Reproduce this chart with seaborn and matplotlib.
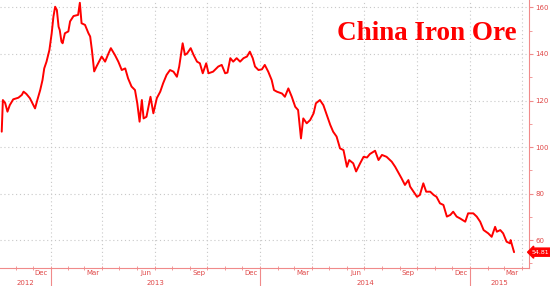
import numpy as np
import pandas as pd
import matplotlib
matplotlib.use("Agg")
import matplotlib.pyplot as plt
import matplotlib.dates as mdates
from matplotlib.lines import Line2D
import seaborn as sns

# ---------------- data ----------------
dates = [
    "2012-10-08", "2012-10-10", "2012-10-14", "2012-10-18", "2012-10-22", "2012-10-28",
    "2012-11-06", "2012-11-12", "2012-11-15", "2012-11-20", "2012-11-26", "2012-12-02",
    "2012-12-05", "2012-12-09", "2012-12-14", "2012-12-18", "2012-12-21", "2012-12-25",
    "2012-12-30", "2013-01-03", "2013-01-06", "2013-01-09", "2013-01-12", "2013-01-15",
    "2013-01-17", "2013-01-20", "2013-01-22", "2013-01-26", "2013-02-01", "2013-02-04",
    "2013-02-10", "2013-02-18", "2013-02-21", "2013-02-24", "2013-03-02", "2013-03-08",
    "2013-03-11", "2013-03-14", "2013-03-18", "2013-03-22", "2013-03-28", "2013-03-31",
    "2013-04-06", "2013-04-12", "2013-04-16", "2013-04-23", "2013-04-29", "2013-05-05",
    "2013-05-11", "2013-05-16", "2013-05-22", "2013-05-28", "2013-06-01", "2013-06-05",
    "2013-06-09", "2013-06-12", "2013-06-17", "2013-06-24", "2013-06-29", "2013-07-05",
    "2013-07-11", "2013-07-16", "2013-07-22", "2013-07-28", "2013-08-03", "2013-08-09",
    "2013-08-13", "2013-08-19", "2013-08-23", "2013-08-27", "2013-09-02", "2013-09-07",
    "2013-09-13", "2013-09-18", "2013-09-23", "2013-09-29", "2013-10-03", "2013-10-11",
    "2013-10-20", "2013-10-26", "2013-11-01", "2013-11-05", "2013-11-10", "2013-11-15",
    "2013-11-21", "2013-11-27", "2013-12-03", "2013-12-09", "2013-12-14", "2013-12-19",
    "2013-12-23", "2013-12-29", "2014-01-04", "2014-01-09", "2014-01-15", "2014-01-21",
    "2014-01-25", "2014-01-30", "2014-02-08", "2014-02-13", "2014-02-19", "2014-02-25",
    "2014-03-03", "2014-03-08", "2014-03-13", "2014-03-17", "2014-03-23", "2014-03-29",
    "2014-04-04", "2014-04-08", "2014-04-15", "2014-04-21", "2014-04-27", "2014-05-03",
    "2014-05-08", "2014-05-14", "2014-05-20", "2014-05-26", "2014-06-01", "2014-06-05",
    "2014-06-12", "2014-06-17", "2014-06-24", "2014-06-30", "2014-07-06", "2014-07-11",
    "2014-07-20", "2014-07-26", "2014-08-01", "2014-08-09", "2014-08-18", "2014-08-24",
    "2014-08-30", "2014-09-04", "2014-09-10", "2014-09-16", "2014-09-19", "2014-09-25",
    "2014-10-01", "2014-10-06", "2014-10-12", "2014-10-17", "2014-10-24", "2014-10-30",
    "2014-11-04", "2014-11-10", "2014-11-16", "2014-11-22", "2014-11-28", "2014-12-03",
    "2014-12-09", "2014-12-15", "2014-12-24", "2014-12-29", "2015-01-07", "2015-01-13",
    "2015-01-19", "2015-01-25", "2015-02-02", "2015-02-08", "2015-02-14", "2015-02-17",
    "2015-02-23", "2015-02-28", "2015-03-06", "2015-03-12", "2015-03-13", "2015-03-18",
    "2015-03-19",
]
values = [
    106.6, 120.2, 118.9, 115.2, 118.0, 120.5,
    121.2, 122.4, 123.8, 122.8, 121.0, 118.0,
    116.6, 120.2, 124.5, 128.8, 133.8, 136.7,
    141.7, 148.9, 156.0, 160.3, 158.9, 151.7,
    150.3, 145.3, 144.6, 148.9, 149.7, 154.0,
    156.3, 156.8, 162.0, 153.2, 152.5, 148.9,
    147.5, 141.7, 132.5, 134.6, 137.4, 138.9,
    136.7, 140.3, 142.5, 139.6, 136.7, 133.1,
    133.8, 129.5, 126.0, 124.5, 118.8, 110.9,
    120.2, 112.3, 113.0, 121.6, 114.5, 121.0,
    123.8, 127.4, 131.0, 133.1, 132.4, 130.2,
    134.6, 144.6, 139.6, 140.3, 142.5, 139.6,
    136.7, 136.0, 131.7, 136.0, 131.7, 132.4,
    134.6, 135.3, 131.7, 132.0, 138.2, 136.7,
    138.2, 136.7, 138.2, 138.9, 141.0, 138.2,
    134.6, 133.1, 133.4, 135.3, 132.4, 128.8,
    124.5, 123.8, 123.0, 121.6, 125.2, 121.6,
    117.3, 115.9, 103.7, 112.3, 110.2, 111.6,
    114.5, 118.8, 120.2, 118.0, 113.8, 109.5,
    106.6, 104.5, 99.4, 98.7, 91.5, 94.4,
    93.0, 89.5, 93.0, 95.8, 95.5, 97.0,
    98.4, 94.4, 96.6, 95.8, 93.7, 91.5,
    88.8, 86.6, 83.7, 85.8, 83.0, 80.8,
    78.6, 79.4, 84.4, 80.8, 80.8, 79.4,
    78.6, 75.8, 75.1, 70.1, 70.8, 72.2,
    70.1, 69.3, 67.9, 71.5, 71.5, 70.1,
    67.9, 64.3, 62.9, 61.4, 65.7, 63.6,
    64.3, 62.9, 59.3, 58.6, 60.0, 55.7,
    54.81,
]
quarter_labels = ["Dec", "Mar", "Jun", "Sep", "Dec", "Mar", "Jun", "Sep", "Dec", "Mar"]
quarter_label_dates = ["2012-12-16", "2013-03-16", "2013-06-16", "2013-09-16", "2013-12-16",
                       "2014-03-16", "2014-06-16", "2014-09-16", "2014-12-16", "2015-03-16"]
year_labels = ["2012", "2013", "2014", "2015"]
y_ticks = [60, 80, 100, 120, 140, 160]
last_value = 54.81
title = "China Iron Ore"

# ---------------- styling ----------------
RED = "#ff0000"
AXIS_RED = "#f08a8a"
LABEL_RED = "#e04848"
GRID = "#c8c8c8"

sns.set_style("white")
plt.rcParams["font.family"] = ["DejaVu Sans"]

fig = plt.figure(figsize=(5.5, 2.86), dpi=100)
ax = fig.add_axes([0, 18 / 286, 529 / 550, 268 / 286])

df = pd.DataFrame({"date": pd.to_datetime(dates), "value": values})
sns.lineplot(data=df, x="date", y="value", color=RED, lw=1.4, ax=ax, legend=False)

x0 = pd.Timestamp("2012-10-05")
x1 = pd.Timestamp("2015-04-14")
ax.set_xlim(x0, x1)
ax.set_ylim(48, 163.2)
ax.set_xlabel("")
ax.set_ylabel("")

# spines
for s in ["left", "top"]:
    ax.spines[s].set_visible(False)
for s in ["right", "bottom"]:
    ax.spines[s].set_visible(True)
    ax.spines[s].set_color(AXIS_RED)
    ax.spines[s].set_linewidth(0.8)

# y axis on the right
ax.yaxis.tick_right()
ax.set_yticks(y_ticks)
ax.set_yticks(np.arange(50, 161, 10), minor=True)
ax.tick_params(axis="y", which="major", length=3, width=0.8, color=AXIS_RED,
               labelsize=5, labelcolor=LABEL_RED, pad=1.5, right=True, left=False)
ax.tick_params(axis="y", which="minor", length=2, width=0.6, color=AXIS_RED,
               right=True, left=False)
ax.grid(axis="y", which="major", color=GRID, linestyle=(0, (1, 2.5)), linewidth=0.8)

# x axis: gridlines at quarter starts, minor ticks each month
ax.xaxis.set_major_locator(mdates.MonthLocator(bymonth=[1, 4, 7, 10]))
ax.xaxis.set_minor_locator(mdates.MonthLocator())
ax.xaxis.set_major_formatter(plt.NullFormatter())
ax.tick_params(axis="x", which="both", length=3, width=0.6, color=AXIS_RED,
               direction="inout", bottom=True)
ax.grid(axis="x", which="major", color=GRID, linestyle=(0, (1, 2.5)), linewidth=0.8)

xt = ax.get_xaxis_transform()
for lab, d in zip(quarter_labels, quarter_label_dates):
    ax.text(pd.Timestamp(d), -0.02, lab, transform=xt, ha="center", va="center",
            fontsize=5, color=LABEL_RED)

for lab in year_labels:
    ys = max(pd.Timestamp(f"{lab}-01-01"), x0)
    ye = min(pd.Timestamp(f"{int(lab) + 1}-01-01"), x1)
    mid = ys + (ye - ys) / 2
    ax.text(mid, -0.057, lab, transform=xt, ha="center", va="center",
            fontsize=5, color=LABEL_RED)
    if pd.Timestamp(f"{lab}-01-01") > x0:
        ax.add_line(Line2D([pd.Timestamp(f"{lab}-01-01")] * 2, [0, -0.075], transform=xt,
                           color=AXIS_RED, lw=0.8, clip_on=False))

# last value tag
ax.annotate(f"{last_value:.2f}", xy=(1.0, last_value), xycoords=("axes fraction", "data"),
            xytext=(2.2, 0), textcoords="offset points", ha="left", va="center",
            fontsize=4.5, color="white", annotation_clip=False,
            bbox=dict(boxstyle="larrow,pad=0.25", fc=RED, ec=RED))

# title
fig.text(337 / 550, 1 - 40 / 286, title, ha="left", va="baseline",
         fontsize=19.5, fontweight="bold", color=RED, family=["Liberation Serif", "DejaVu Serif"])

fig.savefig("out.png", dpi=100)
